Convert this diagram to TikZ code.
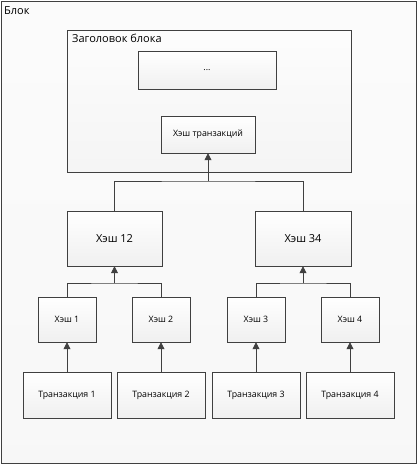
\documentclass[tikz,border=0pt]{standalone}
\usepackage{fontspec}
\setmainfont{Open Sans}
\usetikzlibrary{arrows.meta,shadows}
\definecolor{linec}{HTML}{404040}
\begin{document}
\begin{tikzpicture}
  [x=1pt,y=-1pt,every node/.style={rectangle,font=\fontsize{8.8}{10}\selectfont}]
  \tikzstyle{box} = [draw=linec,top color=white,bottom color=gray!12,
   drop shadow={shadow xshift=1pt,shadow yshift=-1pt,opacity=0.25}]
  \tikzstyle{lbl} = [inner sep=0pt,anchor=base west]
  \tikzstyle{big} = [font=\fontsize{11}{12}\selectfont]
  \tikzstyle{arr} = [draw=linec,line width=0.8pt,-{Triangle[length=7pt,width=7pt]}]
  \tikzstyle{link} = [draw=linec,line width=0.8pt]
  \useasboundingbox (0,0) rectangle (419,466);
  \fill[white] (0,0) rectangle (419,466);
  % block frame and header
  \node[draw=linec,top color=gray!3,bottom color=gray!6,minimum width=415pt,minimum height=462pt] (blk) at (208.5,232) {};
  \node[lbl,big] (blkname) at (4,14) {Блок};
  \node[box,minimum width=284pt,minimum height=142pt,top color=gray!2,bottom color=gray!8] (hdr) at (209,101) {};
  \node[lbl,big] (hdrname) at (72,42) {Заголовок блока};
  \node[box,minimum width=138pt,minimum height=38pt] (dots) at (207,70) {...};
  \node[box,minimum width=94pt,minimum height=37pt] (htx) at (208,134.5) {Хэш транзакций};
  % hash tree
  \node[box,big,minimum width=95pt,minimum height=55pt] (h12) at (114.5,238.5) {Хэш 12};
  \node[box,big,minimum width=96pt,minimum height=55pt] (h34) at (303,238.5) {Хэш 34};
  \node[box,minimum width=58pt,minimum height=45pt] (h1) at (67,319.5) {Хэш 1};
  \node[box,minimum width=58pt,minimum height=45pt] (h2) at (161,319.5) {Хэш 2};
  \node[box,minimum width=58pt,minimum height=45pt] (h3) at (256,319.5) {Хэш 3};
  \node[box,minimum width=58pt,minimum height=45pt] (h4) at (350,319.5) {Хэш 4};
  \node[box,minimum width=88pt,minimum height=46pt] (t1) at (67,395) {Транзакция 1};
  \node[box,minimum width=88pt,minimum height=46pt] (t2) at (161,395) {Транзакция 2};
  \node[box,minimum width=88pt,minimum height=46pt] (t3) at (256,395) {Транзакция 3};
  \node[box,minimum width=88pt,minimum height=46pt] (t4) at (350,395) {Транзакция 4};
  \coordinate (jtop) at (208,181);
  \coordinate (j12) at (114.5,283);
  \coordinate (j34) at (303,283);
  \foreach \left /\right /\join in {h12/h34/jtop,h1/h2/j12,h3/h4/j34}
   \draw[link] (\left.north) |- (\join) -| (\right.north);
  \foreach \source /\dest in {jtop/htx,j12/h12,j34/h34,t1/h1,t2/h2,t3/h3,t4/h4}
   \draw[arr] (\source) -- (\dest.south);
\end{tikzpicture}
\end{document}
